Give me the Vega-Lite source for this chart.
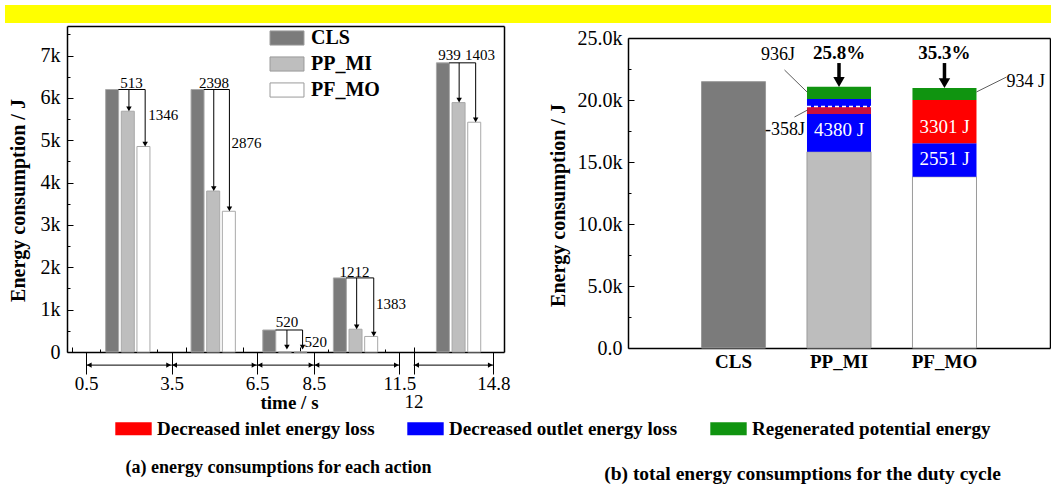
{
  "$schema": "https://vega.github.io/schema/vega-lite/v6.json",
  "width": 1051,
  "height": 488,
  "autosize": {"type": "none"},
  "padding": 0,
  "background": "white",
  "config": {
    "view": {"stroke": null},
    "font": "Liberation Serif",
    "axis": {"grid": false, "domainColor": "black", "domainWidth": 1.5, "tickColor": "black", "tickWidth": 1, "labelColor": "black", "titleColor": "black", "labelFont": "Liberation Serif", "titleFont": "Liberation Serif", "labelFlush": false, "labelOverlap": false, "labelAngle": 0},
    "legend": {"labelFont": "Liberation Serif", "labelColor": "black"}
  },
  "datasets": {
    "banner": [{"band": "header"}],
    "left_bars": [
      {"t": 1.41, "series": "CLS", "energy": 6200}, {"t": 1.96, "series": "PP_MI", "energy": 5687}, {"t": 2.51, "series": "PF_MO", "energy": 4854},
      {"t": 4.41, "series": "CLS", "energy": 6200}, {"t": 4.96, "series": "PP_MI", "energy": 3802}, {"t": 5.51, "series": "PF_MO", "energy": 3324},
      {"t": 6.93, "series": "CLS", "energy": 520}, {"t": 7.48, "series": "PP_MI", "energy": 0}, {"t": 8.03, "series": "PF_MO", "energy": 0},
      {"t": 9.41, "series": "CLS", "energy": 1750}, {"t": 9.96, "series": "PP_MI", "energy": 538}, {"t": 10.51, "series": "PF_MO", "energy": 367},
      {"t": 13.03, "series": "CLS", "energy": 6830}, {"t": 13.58, "series": "PP_MI", "energy": 5891}, {"t": 14.13, "series": "PF_MO", "energy": 5427}
    ],
    "left_brackets": [
      {"start": 1.63, "end": 2.57, "energy": 6200},
      {"start": 4.63, "end": 5.53, "energy": 6200},
      {"start": 7.15, "end": 8.1, "energy": 520},
      {"start": 9.63, "end": 10.6, "energy": 1750},
      {"start": 13.25, "end": 14.18, "energy": 6830}
    ],
    "left_arrows": [
      {"t": 2.0, "from": 6200, "to": 5687}, {"t": 2.57, "from": 6200, "to": 4854},
      {"t": 4.98, "from": 6200, "to": 3802}, {"t": 5.53, "from": 6200, "to": 3324},
      {"t": 7.55, "from": 520, "to": 60}, {"t": 8.1, "from": 520, "to": 60},
      {"t": 10.0, "from": 1750, "to": 538}, {"t": 10.6, "from": 1750, "to": 367},
      {"t": 13.6, "from": 6830, "to": 5891}, {"t": 14.18, "from": 6830, "to": 5427}
    ],
    "left_labels_center": [
      {"t": 2.09, "energy": 6360, "label": "513"},
      {"t": 4.99, "energy": 6360, "label": "2398"},
      {"t": 7.55, "energy": 720, "label": "520"},
      {"t": 9.92, "energy": 1900, "label": "1212"},
      {"t": 13.26, "energy": 7010, "label": "939"},
      {"t": 14.33, "energy": 7010, "label": "1403"}
    ],
    "left_labels_side": [
      {"t": 2.68, "energy": 5600, "label": "1346"},
      {"t": 5.6, "energy": 4930, "label": "2876"},
      {"t": 8.17, "energy": 240, "label": "520"},
      {"t": 10.68, "energy": 1130, "label": "1383"}
    ],
    "time_spans": [
      {"start": 0.5, "end": 3.5}, {"start": 3.5, "end": 6.5}, {"start": 6.5, "end": 8.5}, {"start": 8.5, "end": 11.5}, {"start": 12, "end": 14.8}
    ],
    "right_stack": [
      {"scheme": "CLS", "part": "CLS", "seq": 0, "energy": 21480},
      {"scheme": "PP_MI", "part": "PP_MI", "seq": 0, "energy": 15830},
      {"scheme": "PP_MI", "part": "Decreased outlet energy loss", "seq": 1, "energy": 3040},
      {"scheme": "PP_MI", "part": "Overlap", "seq": 2, "energy": 560},
      {"scheme": "PP_MI", "part": "Decreased outlet energy loss", "seq": 3, "energy": 650},
      {"scheme": "PP_MI", "part": "Regenerated potential energy", "seq": 4, "energy": 980},
      {"scheme": "PF_MO", "part": "PF_MO", "seq": 0, "energy": 13810},
      {"scheme": "PF_MO", "part": "Decreased outlet energy loss", "seq": 1, "energy": 2700},
      {"scheme": "PF_MO", "part": "Decreased inlet energy loss", "seq": 2, "energy": 3490},
      {"scheme": "PF_MO", "part": "Regenerated potential energy", "seq": 3, "energy": 970}
    ],
    "right_dash": [{"scheme": "PP_MI", "energy": 19480}],
    "right_inner_labels": [
      {"scheme": "PP_MI", "energy": 17580, "label": "4380 J"},
      {"scheme": "PF_MO", "energy": 17820, "label": "3301 J"},
      {"scheme": "PF_MO", "energy": 15240, "label": "2551 J"}
    ],
    "right_percent": [
      {"scheme": "PP_MI", "energy": 23800, "label": "25.8%"},
      {"scheme": "PF_MO", "energy": 23800, "label": "35.3%"}
    ],
    "right_big_arrows": [
      {"scheme": "PP_MI", "from": 22980, "to": 21060},
      {"scheme": "PF_MO", "from": 22980, "to": 20970}
    ],
    "right_callouts": [
      {"scheme": "PP_MI", "energy": 23630, "label": "936J"},
      {"scheme": "PP_MI", "energy": 17580, "label": "-358J"},
      {"scheme": "PF_MO", "energy": 21450, "label": "934 J"}
    ],
    "right_leaders": [
      {"label": "936J", "scheme": "PP_MI", "from": 22420, "to": 20650},
      {"label": "-358J", "scheme": "PP_MI", "from": 18630, "to": 19190},
      {"label": "934 J", "scheme": "PF_MO", "from": 20650, "to": 21850}
    ]
  },
  "layer": [
    {
      "data": {"name": "banner"},
      "mark": {"type": "rect", "fill": "#ffff00"},
      "encoding": {
        "x": {"field": "band", "type": "nominal", "scale": {"range": [5, 1051], "paddingInner": 0, "paddingOuter": 0}, "axis": null},
        "y": {"field": "band", "type": "nominal", "scale": {"range": [5, 23], "paddingInner": 0, "paddingOuter": 0}, "axis": null}
      }
    },
    {
      "layer": [
        {
          "data": {"name": "left_bars"},
          "mark": {"type": "bar", "size": 13, "stroke": "#a9a9a9", "strokeWidth": 1},
          "encoding": {
            "x": {"field": "t", "type": "quantitative", "scale": {"domain": [0, 15], "range": [67, 504], "nice": false, "zero": false},
              "axis": {"orient": "bottom", "offset": -136, "values": [0, 2, 4, 6, 8, 10, 12, 14], "labels": false, "tickSize": -5, "title": "time / s", "titleFontSize": 19, "titleFontWeight": "bold", "titleX": 289, "titleY": 50, "titleBaseline": "middle", "titleAlign": "center"}},
            "y": {"field": "energy", "type": "quantitative", "scale": {"domain": [0, 7700], "range": [352, 26], "nice": false, "zero": false},
              "axis": {"orient": "left", "offset": -67, "values": [0, 1000, 2000, 3000, 4000, 5000, 6000, 7000], "labelExpr": "datum.value == 0 ? '0' : (datum.value / 1000) + 'k'", "labelFontSize": 20, "tickSize": -6, "labelPadding": 13, "title": "Energy consumption / J", "titleFontSize": 20, "titleFontWeight": "bold", "titleX": -49, "titleY": 200, "titleAngle": 270, "titleAlign": "center", "titleBaseline": "middle"}},
            "color": {"field": "series", "type": "nominal", "scale": {"domain": ["CLS", "PP_MI", "PF_MO"], "range": ["#7b7b7b", "#bebebe", "#ffffff"]},
              "legend": {"orient": "none", "legendX": 277, "legendY": 28, "title": null, "direction": "vertical", "symbolType": "M-2.4,-1H2.4V1H-2.4Z", "symbolSize": 200, "symbolStrokeColor": "#9a9a9a", "symbolStrokeWidth": 1, "labelFontSize": 20, "labelFontWeight": "bold", "labelOffset": 14, "rowPadding": 6}}
          }
        },
        {
          "data": {"name": "time_spans"},
          "mark": {"type": "rule", "color": "black", "strokeWidth": 1},
          "encoding": {
            "x": {"field": "start", "type": "quantitative", "scale": {"domain": [0, 15], "range": [67, 504], "nice": false, "zero": false},
              "axis": {"orient": "bottom", "offset": -136, "values": [0.5, 3.5, 6.5, 8.5, 11.5, 12, 14.8], "domain": false, "tickSize": 22, "labelExpr": "'' + datum.value", "labelFontSize": 19, "labelPadding": {"condition": {"test": "datum.value == 12", "value": 18}, "value": 0}, "title": "(a) energy consumptions for each action", "titleFontSize": 18, "titleFontWeight": "bold", "titleX": 278, "titleY": 115, "titleBaseline": "middle", "titleAlign": "center"}},
            "x2": {"field": "end"},
            "y": {"datum": -310, "type": "quantitative", "scale": {"domain": [0, 7700], "range": [352, 26], "nice": false, "zero": false},
              "axis": {"orient": "right", "offset": -547, "labels": false, "ticks": false, "title": null}}
          }
        },
        {
          "data": {"name": "time_spans"},
          "mark": {"type": "point", "shape": "triangle-left", "size": 30, "filled": true, "color": "black", "opacity": 1, "xOffset": 3},
          "encoding": {
            "x": {"field": "start", "type": "quantitative", "scale": {"domain": [0, 15], "range": [67, 504], "nice": false, "zero": false}, "axis": null},
            "y": {"datum": -310, "type": "quantitative", "scale": {"domain": [0, 7700], "range": [352, 26], "nice": false, "zero": false}, "axis": null}
          }
        },
        {
          "data": {"name": "time_spans"},
          "mark": {"type": "point", "shape": "triangle-right", "size": 30, "filled": true, "color": "black", "opacity": 1, "xOffset": -3},
          "encoding": {
            "x": {"field": "end", "type": "quantitative", "scale": {"domain": [0, 15], "range": [67, 504], "nice": false, "zero": false}, "axis": null},
            "y": {"datum": -310, "type": "quantitative", "scale": {"domain": [0, 7700], "range": [352, 26], "nice": false, "zero": false}, "axis": null}
          }
        },
        {
          "data": {"name": "left_brackets"},
          "mark": {"type": "rule", "color": "black", "strokeWidth": 1},
          "encoding": {
            "x": {"field": "start", "type": "quantitative", "scale": {"domain": [0, 15], "range": [67, 504], "nice": false, "zero": false},
              "axis": {"orient": "top", "offset": -26, "labels": false, "ticks": false, "title": null}},
            "x2": {"field": "end"},
            "y": {"field": "energy", "type": "quantitative", "scale": {"domain": [0, 7700], "range": [352, 26], "nice": false, "zero": false},
              "axis": {"orient": "left", "offset": -67, "values": [500, 1500, 2500, 3500, 4500, 5500, 6500, 7500], "labels": false, "domain": false, "tickSize": -3, "title": null}}
          }
        },
        {
          "data": {"name": "left_arrows"},
          "mark": {"type": "rule", "color": "black", "strokeWidth": 1, "y2Offset": -2},
          "encoding": {
            "x": {"field": "t", "type": "quantitative", "scale": {"domain": [0, 15], "range": [67, 504], "nice": false, "zero": false},
              "axis": {"orient": "bottom", "offset": -136, "values": [1, 3, 5, 7, 9, 11, 13], "labels": false, "domain": false, "tickSize": -3, "title": null}},
            "y": {"field": "from", "type": "quantitative", "scale": {"domain": [0, 7700], "range": [352, 26], "nice": false, "zero": false}, "axis": null},
            "y2": {"field": "to"}
          }
        },
        {
          "data": {"name": "left_arrows"},
          "mark": {"type": "point", "shape": "triangle-down", "size": 30, "filled": true, "color": "black", "opacity": 1, "yOffset": -2.4},
          "encoding": {
            "x": {"field": "t", "type": "quantitative", "scale": {"domain": [0, 15], "range": [67, 504], "nice": false, "zero": false}, "axis": null},
            "y": {"field": "to", "type": "quantitative", "scale": {"domain": [0, 7700], "range": [352, 26], "nice": false, "zero": false}, "axis": null}
          }
        },
        {
          "data": {"name": "left_labels_center"},
          "mark": {"type": "text", "fontSize": 15, "align": "center", "baseline": "middle", "color": "black"},
          "encoding": {
            "x": {"field": "t", "type": "quantitative", "scale": {"domain": [0, 15], "range": [67, 504], "nice": false, "zero": false}, "axis": null},
            "y": {"field": "energy", "type": "quantitative", "scale": {"domain": [0, 7700], "range": [352, 26], "nice": false, "zero": false}, "axis": null},
            "text": {"field": "label"}
          }
        },
        {
          "data": {"name": "left_labels_side"},
          "mark": {"type": "text", "fontSize": 15, "align": "left", "baseline": "middle", "color": "black"},
          "encoding": {
            "x": {"field": "t", "type": "quantitative", "scale": {"domain": [0, 15], "range": [67, 504], "nice": false, "zero": false}, "axis": null},
            "y": {"field": "energy", "type": "quantitative", "scale": {"domain": [0, 7700], "range": [352, 26], "nice": false, "zero": false}, "axis": null},
            "text": {"field": "label"}
          }
        }
      ],
      "resolve": {"axis": {"x": "independent", "y": "independent"}}
    },
    {
      "layer": [
        {
          "data": {"name": "right_stack"},
          "mark": {"type": "bar", "strokeWidth": 1},
          "encoding": {
            "x": {"field": "scheme", "type": "nominal", "sort": null, "scale": {"domain": ["CLS", "PP_MI", "PF_MO"], "range": [628, 1050], "paddingInner": 0.393, "paddingOuter": 0.697},
              "axis": {"orient": "bottom", "offset": -140, "labelFontSize": 19, "labelFontWeight": "bold", "labelPadding": 10, "tickSize": -6, "title": "(b) total energy consumptions for the duty cycle", "titleFontSize": 19.5, "titleFontWeight": "bold", "titleX": 802, "titleY": 125, "titleBaseline": "middle", "titleAlign": "center"}},
            "y": {"field": "energy", "type": "quantitative", "stack": "zero", "scale": {"domain": [0, 25000], "range": [348, 38], "nice": false, "zero": false},
              "axis": {"orient": "left", "offset": -628, "values": [0, 5000, 10000, 15000, 20000, 25000], "labelExpr": "datum.value == 0 ? '0.0' : format(datum.value / 1000, '.1f') + 'k'", "labelFontSize": 20, "tickSize": -6, "labelPadding": 12, "title": "Energy consumption / J", "titleFontSize": 20, "titleFontWeight": "bold", "titleX": -70, "titleY": 205, "titleAngle": 270, "titleAlign": "center", "titleBaseline": "middle"}},
            "order": {"field": "seq", "type": "quantitative"},
            "color": {"field": "part", "type": "nominal",
              "scale": {"domain": ["CLS", "PP_MI", "PF_MO", "Decreased inlet energy loss", "Decreased outlet energy loss", "Regenerated potential energy", "Overlap"], "range": ["#7b7b7b", "#bdbdbd", "#ffffff", "#ff0000", "#0000ff", "#109410", "#c8103c"]},
              "legend": {"orient": "none", "legendX": 124, "legendY": 419, "direction": "horizontal", "title": null, "values": ["Decreased inlet energy loss", "Decreased outlet energy loss", "Regenerated potential energy"], "symbolType": "M-2.8,-1H2.8V1H-2.8Z", "symbolSize": 169, "symbolStrokeWidth": 0, "labelFontSize": 19, "labelFontWeight": "bold", "labelOffset": 14, "columnPadding": 32, "labelLimit": 400}},
            "stroke": {"condition": {"test": "datum.seq == 0", "value": "#9a9a9a"}, "value": "transparent"}
          }
        },
        {
          "data": {"name": "right_dash"},
          "mark": {"type": "rule", "color": "white", "strokeWidth": 1.5, "strokeDash": [4, 3], "xOffset": -32, "x2Offset": 32},
          "encoding": {
            "x": {"field": "scheme", "type": "nominal", "sort": null, "scale": {"domain": ["CLS", "PP_MI", "PF_MO"], "range": [628, 1050], "paddingInner": 0.393, "paddingOuter": 0.697}, "axis": null},
            "x2": {"field": "scheme"},
            "y": {"field": "energy", "type": "quantitative", "scale": {"domain": [0, 25000], "range": [348, 38], "nice": false, "zero": false}, "axis": null}
          }
        },
        {
          "data": {"name": "right_inner_labels"},
          "mark": {"type": "text", "fontSize": 19, "align": "center", "baseline": "middle", "color": "white"},
          "encoding": {
            "x": {"field": "scheme", "type": "nominal", "sort": null, "scale": {"domain": ["CLS", "PP_MI", "PF_MO"], "range": [628, 1050], "paddingInner": 0.393, "paddingOuter": 0.697},
              "axis": {"orient": "top", "offset": -38, "labels": false, "ticks": false, "title": null}},
            "y": {"field": "energy", "type": "quantitative", "scale": {"domain": [0, 25000], "range": [348, 38], "nice": false, "zero": false},
              "axis": {"orient": "right", "offset": -1, "labels": false, "ticks": false, "title": null}},
            "text": {"field": "label"}
          }
        },
        {
          "data": {"name": "right_percent"},
          "mark": {"type": "text", "fontSize": 19, "fontWeight": "bold", "align": "center", "baseline": "middle", "color": "black"},
          "encoding": {
            "x": {"field": "scheme", "type": "nominal", "sort": null, "scale": {"domain": ["CLS", "PP_MI", "PF_MO"], "range": [628, 1050], "paddingInner": 0.393, "paddingOuter": 0.697}, "axis": null},
            "y": {"field": "energy", "type": "quantitative", "scale": {"domain": [0, 25000], "range": [348, 38], "nice": false, "zero": false}, "axis": null},
            "text": {"field": "label"}
          }
        },
        {
          "data": {"name": "right_big_arrows"},
          "mark": {"type": "rule", "color": "black", "strokeWidth": 3.5, "y2Offset": -7},
          "encoding": {
            "x": {"field": "scheme", "type": "nominal", "sort": null, "scale": {"domain": ["CLS", "PP_MI", "PF_MO"], "range": [628, 1050], "paddingInner": 0.393, "paddingOuter": 0.697}, "axis": null},
            "y": {"field": "from", "type": "quantitative", "scale": {"domain": [0, 25000], "range": [348, 38], "nice": false, "zero": false},
              "axis": {"orient": "left", "offset": -628, "values": [2500, 7500, 12500, 17500, 22500], "labels": false, "domain": false, "tickSize": -3, "title": null}},
            "y2": {"field": "to"}
          }
        },
        {
          "data": {"name": "right_big_arrows"},
          "mark": {"type": "point", "shape": "triangle-down", "size": 130, "filled": true, "color": "black", "opacity": 1, "yOffset": -4.9},
          "encoding": {
            "x": {"field": "scheme", "type": "nominal", "sort": null, "scale": {"domain": ["CLS", "PP_MI", "PF_MO"], "range": [628, 1050], "paddingInner": 0.393, "paddingOuter": 0.697}, "axis": null},
            "y": {"field": "to", "type": "quantitative", "scale": {"domain": [0, 25000], "range": [348, 38], "nice": false, "zero": false}, "axis": null}
          }
        },
        {
          "data": {"name": "right_callouts"},
          "transform": [{"filter": "datum.label == '936J'"}],
          "mark": {"type": "text", "fontSize": 18, "align": "right", "baseline": "middle", "color": "black", "dx": -44},
          "encoding": {
            "x": {"field": "scheme", "type": "nominal", "sort": null, "scale": {"domain": ["CLS", "PP_MI", "PF_MO"], "range": [628, 1050], "paddingInner": 0.393, "paddingOuter": 0.697}, "axis": null},
            "y": {"field": "energy", "type": "quantitative", "scale": {"domain": [0, 25000], "range": [348, 38], "nice": false, "zero": false}, "axis": null},
            "text": {"field": "label"}
          }
        },
        {
          "data": {"name": "right_callouts"},
          "transform": [{"filter": "datum.label == '-358J'"}],
          "mark": {"type": "text", "fontSize": 18, "align": "right", "baseline": "middle", "color": "black", "dx": -34},
          "encoding": {
            "x": {"field": "scheme", "type": "nominal", "sort": null, "scale": {"domain": ["CLS", "PP_MI", "PF_MO"], "range": [628, 1050], "paddingInner": 0.393, "paddingOuter": 0.697}, "axis": null},
            "y": {"field": "energy", "type": "quantitative", "scale": {"domain": [0, 25000], "range": [348, 38], "nice": false, "zero": false}, "axis": null},
            "text": {"field": "label"}
          }
        },
        {
          "data": {"name": "right_callouts"},
          "transform": [{"filter": "datum.label == '934 J'"}],
          "mark": {"type": "text", "fontSize": 18, "align": "left", "baseline": "middle", "color": "black", "dx": 62},
          "encoding": {
            "x": {"field": "scheme", "type": "nominal", "sort": null, "scale": {"domain": ["CLS", "PP_MI", "PF_MO"], "range": [628, 1050], "paddingInner": 0.393, "paddingOuter": 0.697}, "axis": null},
            "y": {"field": "energy", "type": "quantitative", "scale": {"domain": [0, 25000], "range": [348, 38], "nice": false, "zero": false}, "axis": null},
            "text": {"field": "label"}
          }
        },
        {
          "data": {"name": "right_leaders"},
          "transform": [{"filter": "datum.label == '936J'"}],
          "mark": {"type": "rule", "color": "#333333", "strokeWidth": 0.8, "xOffset": -54.5, "x2Offset": -32},
          "encoding": {
            "x": {"field": "scheme", "type": "nominal", "sort": null, "scale": {"domain": ["CLS", "PP_MI", "PF_MO"], "range": [628, 1050], "paddingInner": 0.393, "paddingOuter": 0.697}, "axis": null},
            "x2": {"field": "scheme"},
            "y": {"field": "from", "type": "quantitative", "scale": {"domain": [0, 25000], "range": [348, 38], "nice": false, "zero": false}, "axis": null},
            "y2": {"field": "to"}
          }
        },
        {
          "data": {"name": "right_leaders"},
          "transform": [{"filter": "datum.label == '-358J'"}],
          "mark": {"type": "rule", "color": "#333333", "strokeWidth": 0.8, "xOffset": -44.5, "x2Offset": -31.5},
          "encoding": {
            "x": {"field": "scheme", "type": "nominal", "sort": null, "scale": {"domain": ["CLS", "PP_MI", "PF_MO"], "range": [628, 1050], "paddingInner": 0.393, "paddingOuter": 0.697}, "axis": null},
            "x2": {"field": "scheme"},
            "y": {"field": "from", "type": "quantitative", "scale": {"domain": [0, 25000], "range": [348, 38], "nice": false, "zero": false}, "axis": null},
            "y2": {"field": "to"}
          }
        },
        {
          "data": {"name": "right_leaders"},
          "transform": [{"filter": "datum.label == '934 J'"}],
          "mark": {"type": "rule", "color": "#333333", "strokeWidth": 0.8, "xOffset": 32, "x2Offset": 62},
          "encoding": {
            "x": {"field": "scheme", "type": "nominal", "sort": null, "scale": {"domain": ["CLS", "PP_MI", "PF_MO"], "range": [628, 1050], "paddingInner": 0.393, "paddingOuter": 0.697}, "axis": null},
            "x2": {"field": "scheme"},
            "y": {"field": "from", "type": "quantitative", "scale": {"domain": [0, 25000], "range": [348, 38], "nice": false, "zero": false}, "axis": null},
            "y2": {"field": "to"}
          }
        }
      ],
      "resolve": {"axis": {"x": "independent", "y": "independent"}}
    }
  ],
  "resolve": {
    "scale": {"x": "independent", "y": "independent", "color": "independent"},
    "axis": {"x": "independent", "y": "independent"},
    "legend": {"color": "independent"}
  }
}
